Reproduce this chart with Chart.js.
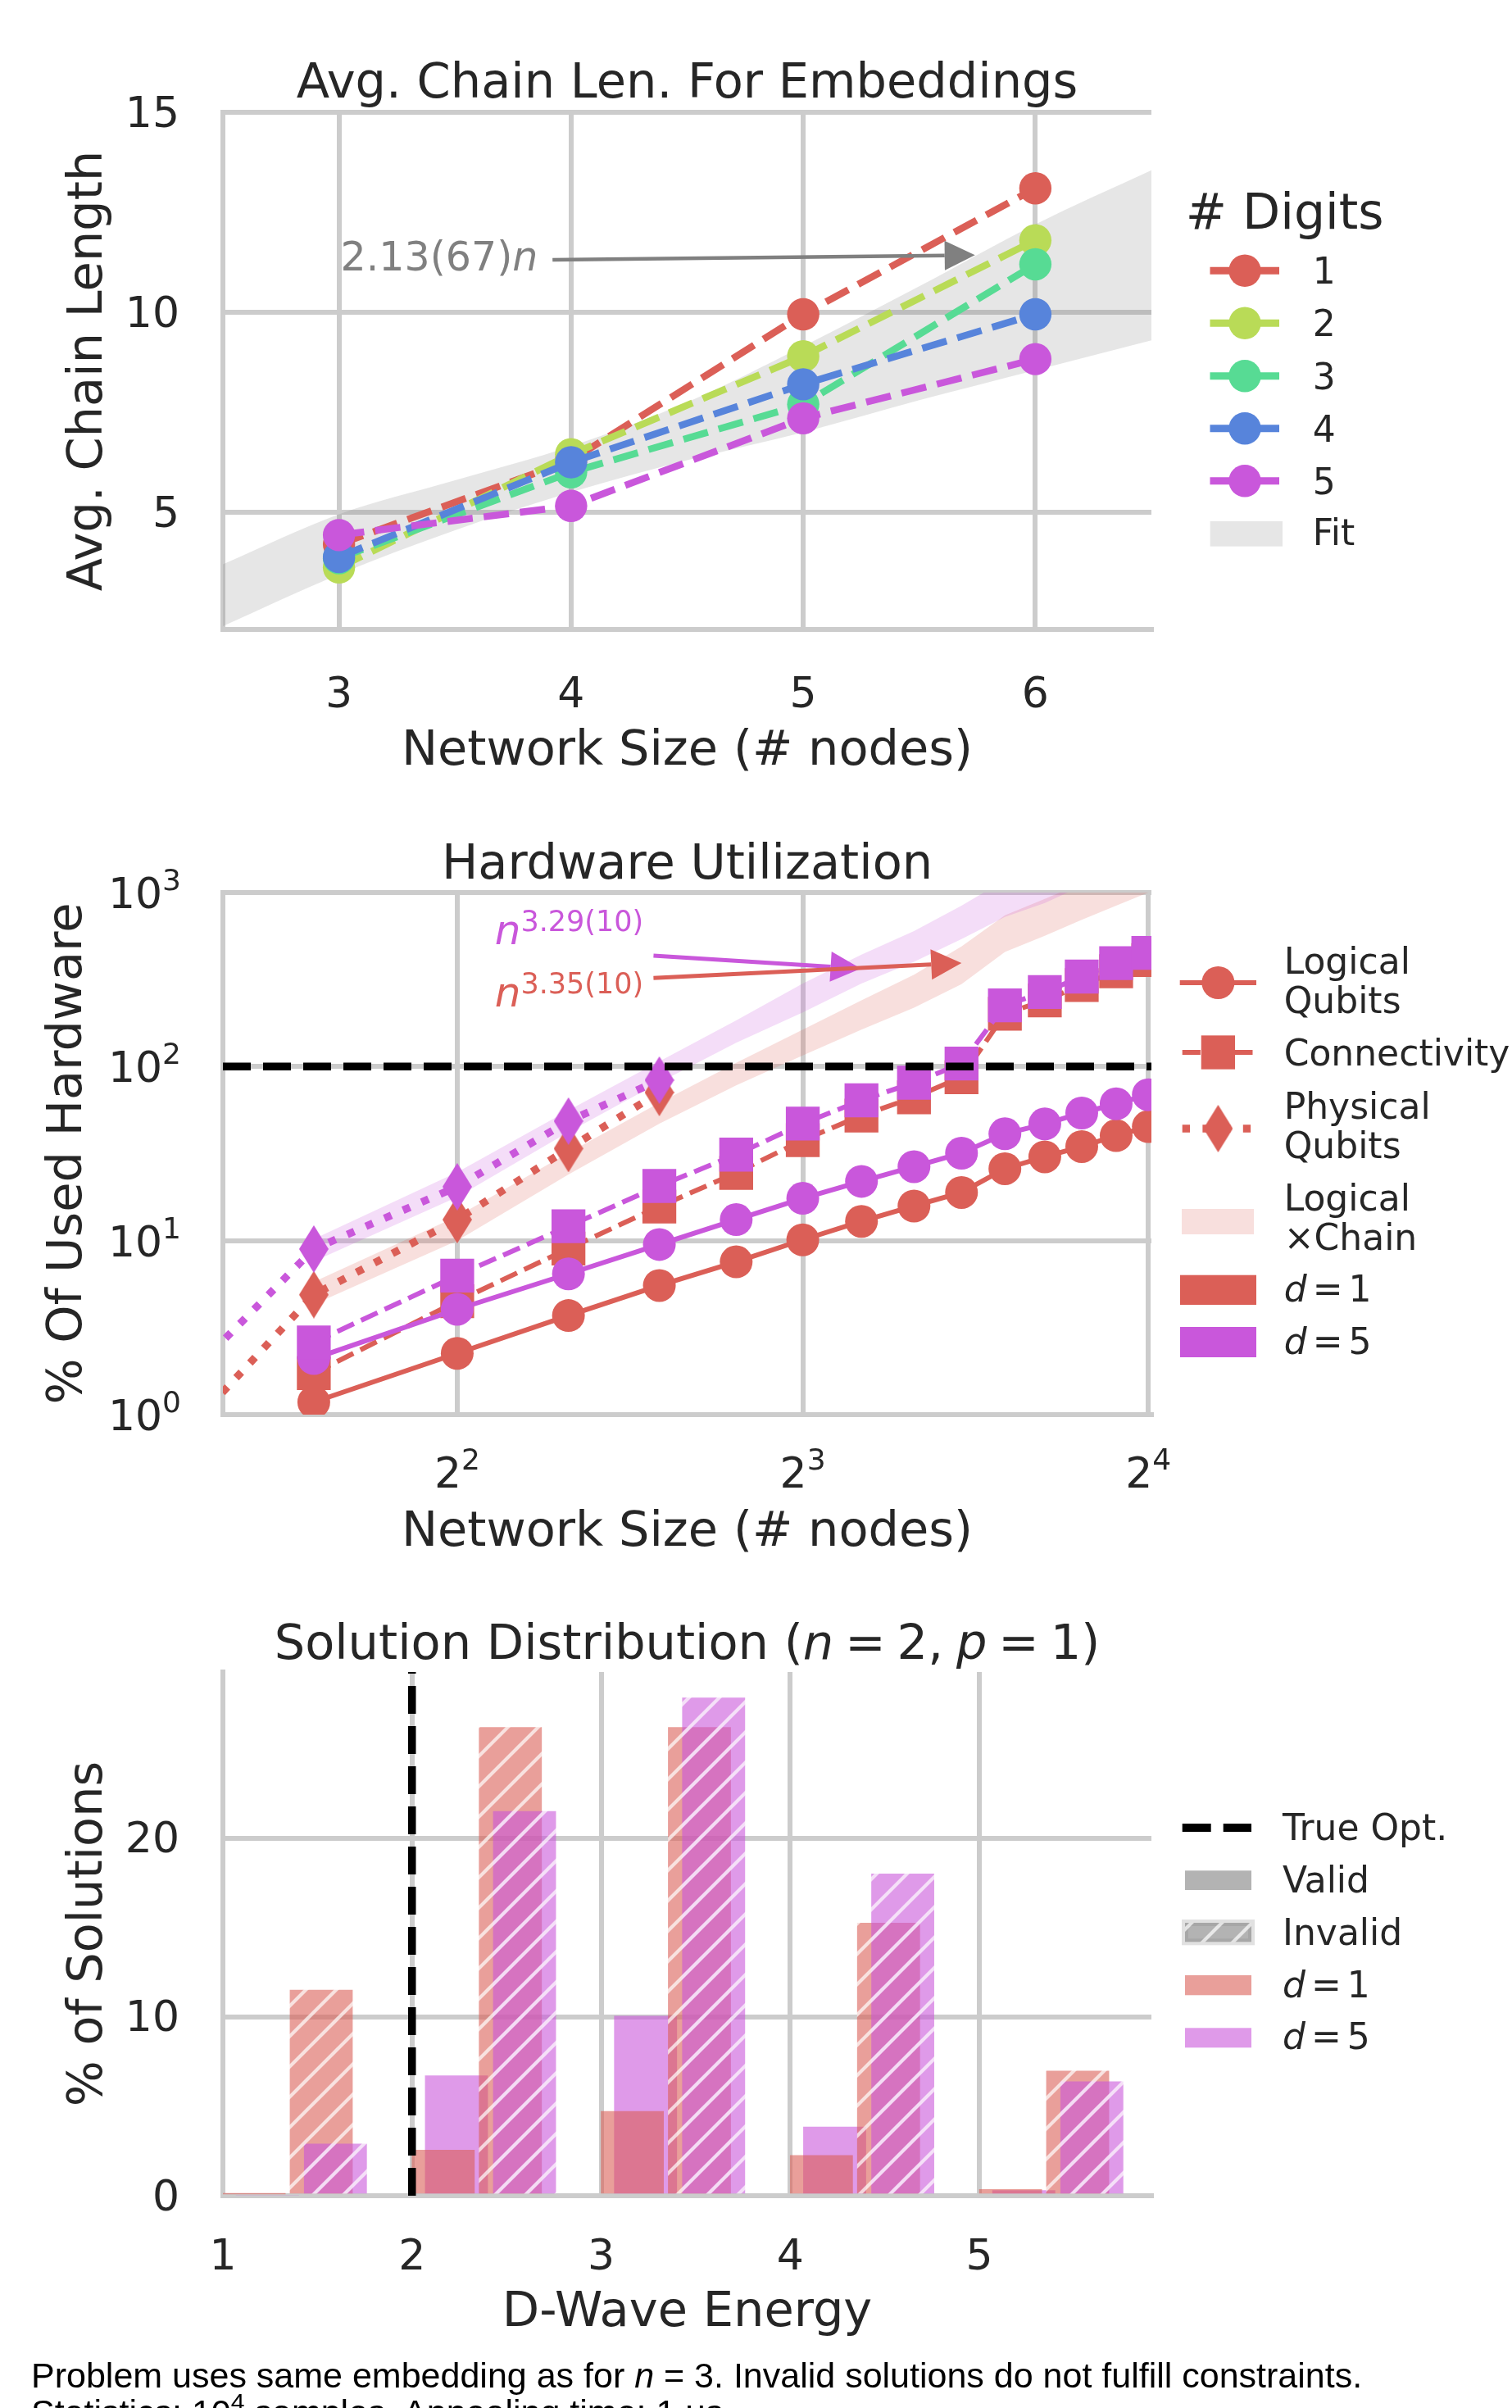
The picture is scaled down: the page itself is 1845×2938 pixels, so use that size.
<!DOCTYPE html>
<html>
<head>
<meta charset="utf-8">
<title>Chain length, hardware utilization and solution distribution</title>
<script src="https://cdn.jsdelivr.net/npm/chart.js@4.4.1/dist/chart.umd.min.js"></script>
<style>
  html, body { margin: 0; padding: 0; background: #fff; }
  body { position: relative; width: 1845px; height: 2938px; overflow: hidden; }
  canvas { position: absolute; left: 0; }
  #foot { position: absolute; left: 38px; top: 2876px; font: 43px/45px "Liberation Sans", sans-serif; color: #000; white-space: nowrap; }
  #foot sup { font-size: 0.7em; line-height: 0; vertical-align: 0.55em; }
</style>
</head>
<body>
<canvas id="chainChart" width="1845" height="1000" style="top:0px"></canvas>
<canvas id="hwChart" width="1845" height="950" style="top:1000px"></canvas>
<canvas id="solChart" width="1845" height="988" style="top:1950px"></canvas>
<div id="foot">Problem uses same embedding as for <i>n</i> = 3. Invalid solutions do not fulfill constraints.<br>Statistics: 10<sup>4</sup> samples. Annealing time: 1 μs.</div>
<script>
// ---------- average chain length ----------
const networkSizes = [3, 4, 5, 6];
const digitNames = ['1', '2', '3', '4', '5'];
const chainLen1 = [4.2, 6.3, 9.95, 13.1];
const chainLen2 = [3.62, 6.45, 8.9, 11.8];
const chainLen3 = [3.85, 6.0, 7.7, 11.2];
const chainLen4 = [3.88, 6.25, 8.2, 9.95];
const chainLen5 = [4.43, 5.16, 7.35, 8.83];
const fitSizes = [2.5, 3, 3.5, 4, 4.5, 5, 5.5, 6, 6.5];
const fitLow = [2.15, 3.45, 4.55, 5.5, 6.3, 7.0, 7.8, 8.55, 9.3];
const fitHigh = [3.7, 4.95, 5.8, 6.65, 7.75, 9.15, 10.65, 12.2, 13.55];
const chainXTicks = [3, 4, 5, 6];
const chainYTicks = [5, 10, 15];

// ---------- hardware utilization (% of used hardware) ----------
const hwSizes = [3, 4, 5, 6, 7, 8, 9, 10, 11, 12, 13, 14, 15, 16];
const logicalD1 = [1.18, 2.25, 3.71, 5.52, 7.55, 10.1, 12.9, 15.8, 18.9, 25.9, 30.3, 34.7, 40.1, 45.2];
const logicalD5 = [2.1, 4.03, 6.44, 9.5, 13.2, 17.5, 21.9, 26.6, 31.8, 41.1, 46.8, 54.1, 61.1, 68.9];
const connD1 = [1.73, 4.48, 9.0, 15.7, 24.5, 37.8, 52.3, 66.6, 86.9, 201, 240, 294, 353, 409];
const connD5 = [2.6, 6.3, 12.1, 20.6, 31.2, 47, 64, 80.8, 104, 225, 268, 329, 393, 450];
const physSizes = [2, 3, 4, 5, 6];
const physD1 = [0.28, 4.89, 13.2, 33.8, 71];
const physD5 = [0.6, 8.95, 20.4, 48.6, 83.6];
const chainBandD1Low = [4.3, 10, 24, 47, 78, 116, 163, 218, 298, 455, 565, 697, 841, 1000];
const chainBandD1High = [5.8, 13.8, 32, 62, 105, 163, 240, 337, 490, 741, 920, 1130, 1370, 1620];
const chainBandD5Low = [7.6, 17.8, 42, 81, 137, 205, 300, 400, 540, 724, 870, 1090, 1280, 1520];
const chainBandD5High = [10.2, 24.7, 56, 107, 184, 300, 440, 600, 840, 1180, 1420, 1760, 2080, 2460];
const hwXTicks = [4, 8, 16];
const hwYTicks = [1, 10, 100, 1000];
const fullHardware = 100;

// ---------- solution distribution ----------
const energyBins = [1, 2, 3, 4, 5];
const validD1 = [0.1, 2.55, 4.72, 2.26, 0.35];
const validD5 = [0, 6.71, 10.05, 3.85, 0.3];
const invalidD1 = [11.5, 26.2, 26.2, 15.25, 6.98];
const invalidD5 = [2.9, 21.5, 27.85, 18.0, 6.38];
const trueOptimum = 2;
const energyTicks = [1, 2, 3, 4, 5];
const solYTicks = [0, 10, 20];

// ---------- style ----------
const INK = '#262626', GRID = '#cccccc';
const RED = '#db5f57', LIME = '#b9db57', GREEN = '#57db94', BLUE = '#5784db', MAGENTA = '#c957db';
const RED_A = 'rgba(219,95,87,0.6)', MAGENTA_A = 'rgba(201,87,219,0.6)';
const PLOT_L = 272, PLOT_R = 1405;

Chart.defaults.font.family = '"DejaVu Sans", sans-serif';
Chart.defaults.color = INK;
Chart.defaults.animation = false;
Chart.defaults.events = [];
Chart.defaults.plugins.legend.display = false;
Chart.defaults.plugins.tooltip.enabled = false;

const pts = (xs, ys) => xs.map((x, i) => ({ x: x, y: ys[i] }));

function fnt(size, italic) { return (italic ? 'italic ' : '') + size + 'px "DejaVu Sans"'; }

// runs: [text, size, italic, raise]; a run with null text is a gap of `size` px
function runAdvance(ctx, r) {
  if (r[0] === null) return r[1];
  ctx.font = fnt(r[1], r[2]);
  return ctx.measureText(r[0]).width;
}

function drawRuns(ctx, runs, x, y, align, color) {
  let w = 0;
  for (const r of runs) w += runAdvance(ctx, r);
  let cx = align === 'center' ? x - w / 2 : align === 'right' ? x - w : x;
  ctx.save();
  ctx.fillStyle = color; ctx.textAlign = 'left'; ctx.textBaseline = 'alphabetic';
  for (const r of runs) {
    const adv = runAdvance(ctx, r);
    if (r[0] !== null) ctx.fillText(r[0], cx, y - (r[3] || 0));
    cx += adv;
  }
  ctx.restore();
}

const mathEq = (name, val, size, gap) => [[name, size, true], [null, gap], ['=', size, false], [null, gap], [val, size, false]];

function line(ctx, x0, y0, x1, y1, color, lw, dash, cap) {
  ctx.save();
  ctx.strokeStyle = color; ctx.lineWidth = lw; ctx.setLineDash(dash || []); ctx.lineCap = cap || 'butt';
  ctx.beginPath(); ctx.moveTo(x0, y0); ctx.lineTo(x1, y1); ctx.stroke();
  ctx.restore();
}

function arrow(ctx, x0, y0, x1, y1, color, lw, hl, hw) {
  const a = Math.atan2(y1 - y0, x1 - x0), c = Math.cos(a), s = Math.sin(a);
  const bx = x1 - hl * c, by = y1 - hl * s;
  line(ctx, x0, y0, bx, by, color, lw);
  ctx.save();
  ctx.fillStyle = color;
  ctx.beginPath();
  ctx.moveTo(x1, y1);
  ctx.lineTo(bx - hw / 2 * s, by + hw / 2 * c);
  ctx.lineTo(bx + hw / 2 * s, by - hw / 2 * c);
  ctx.closePath(); ctx.fill();
  ctx.restore();
}

function circle(ctx, x, y, r, color) {
  ctx.save(); ctx.fillStyle = color; ctx.beginPath(); ctx.arc(x, y, r, 0, Math.PI * 2); ctx.fill(); ctx.restore();
}

function diamondImg(color) {
  const w = 36, h = 58;
  const c = document.createElement('canvas'); c.width = w; c.height = h;
  const g = c.getContext('2d');
  g.fillStyle = color;
  g.beginPath(); g.moveTo(w / 2, 0); g.lineTo(w, h / 2); g.lineTo(w / 2, h); g.lineTo(0, h / 2); g.closePath(); g.fill();
  return c;
}

function hatch(color) {
  const s = 37;
  const c = document.createElement('canvas'); c.width = s; c.height = s;
  const g = c.getContext('2d');
  g.fillStyle = color; g.fillRect(0, 0, s, s);
  g.strokeStyle = 'rgba(255,255,255,0.7)'; g.lineWidth = 4.2;
  g.beginPath();
  g.moveTo(-2, s + 2); g.lineTo(s + 2, -2);
  g.moveTo(-s / 2 - 2, s / 2 + 2); g.lineTo(s / 2 + 2, -s / 2 - 2);
  g.moveTo(s / 2 - 2, s * 1.5 + 2); g.lineTo(s * 1.5 + 2, s / 2 - 2);
  g.stroke();
  return document.createElement('canvas').getContext('2d').createPattern(c, 'repeat');
}

function axis(o) {
  return {
    type: o.type, min: o.min, max: o.max, offset: false,
    afterBuildTicks: s => { s.ticks = o.ticks.map(v => ({ value: v })); },
    afterFit: s => { if (o.width) s.width = o.width; if (o.height) s.height = o.height; },
    grid: { color: GRID, lineWidth: 6, drawTicks: false, offset: false },
    border: { color: GRID, width: 6 },
    ticks: { display: o.showTicks !== false, font: { size: 52 }, color: INK, padding: o.pad || 0, labelOffset: o.labelOffset || 0, maxRotation: 0, autoSkip: false },
    title: { display: true, text: o.title, font: { size: 59 }, color: INK, padding: o.titlePad }
  };
}

function title(chart, runs, baseline) {
  const a = chart.chartArea;
  drawRuns(chart.ctx, runs, (a.left + a.right) / 2, baseline, 'center', INK);
}

// ================= chart 1 =================
const digitSeries = [chainLen1, chainLen2, chainLen3, chainLen4, chainLen5];
const digitColors = [RED, LIME, GREEN, BLUE, MAGENTA];
const fitNote = { x: 3.007, y: 11.05, fromX: 3.92, fromY: 11.31, toX: 5.74, toY: 11.43 };

const chainDeco = {
  id: 'chainDeco',
  afterDatasetsDraw(chart) {
    const { ctx, scales: { x, y } } = chart;
    arrow(ctx, x.getPixelForValue(fitNote.fromX), y.getPixelForValue(fitNote.fromY),
      x.getPixelForValue(fitNote.toX), y.getPixelForValue(fitNote.toY), '#808080', 4.5, 37, 36);
    drawRuns(ctx, [['2.13(67)', 49, false], ['n', 49, true]],
      x.getPixelForValue(fitNote.x), y.getPixelForValue(fitNote.y), 'left', '#808080');
  },
  afterDraw(chart) {
    const ctx = chart.ctx;
    title(chart, [['Avg. Chain Len. For Embeddings', 59, false]], 118.5);
    drawRuns(ctx, [['# Digits', 60, false]], 1446.7, 279, 'left', INK);
    const rows = [330.3, 394.3, 458.7, 522.7, 586.7];
    rows.forEach((ry, i) => {
      line(ctx, 1481, ry, 1556.5, ry, digitColors[i], 9, [], 'square');
      circle(ctx, 1519, ry, 19.7, digitColors[i]);
      drawRuns(ctx, [[digitNames[i], 44, false]], 1601.7, ry + 16, 'left', INK);
    });
    ctx.fillStyle = 'rgba(128,128,128,0.2)';
    ctx.fillRect(1476.7, 636, 88.3, 30.7);
    drawRuns(ctx, [['Fit', 44, false]], 1601.7, 665, 'left', INK);
  }
};

new Chart(document.getElementById('chainChart'), {
  type: 'line',
  data: {
    datasets: [
      { data: pts(fitSizes, fitLow), borderColor: 'rgba(0,0,0,0)', borderWidth: 1, pointRadius: 0, fill: false, cubicInterpolationMode: 'monotone', order: 20 },
      { data: pts(fitSizes, fitHigh), borderColor: 'rgba(0,0,0,0)', borderWidth: 1, pointRadius: 0, fill: '-1', backgroundColor: 'rgba(128,128,128,0.2)', cubicInterpolationMode: 'monotone', order: 19 }
    ].concat(digitSeries.map((s, i) => ({
      label: digitNames[i], data: pts(networkSizes, s),
      borderColor: digitColors[i], backgroundColor: digitColors[i],
      borderWidth: 8.5, borderDash: [31, 13.5], tension: 0, fill: false,
      pointRadius: 19.7, pointHoverRadius: 19.7, pointBackgroundColor: digitColors[i], pointBorderWidth: 0,
      clip: 0, order: 10 - i
    })))
  },
  options: {
    responsive: false, devicePixelRatio: 1,
    layout: { padding: { top: 137, right: 440, bottom: 46, left: 0 } },
    scales: {
      x: axis({ type: 'linear', min: 2.5, max: 6.5, ticks: chainXTicks, height: 186, pad: 49.8, title: 'Network Size (# nodes)', titlePad: { top: 0, bottom: 1 } }),
      y: axis({ type: 'linear', min: 2.07, max: 15, ticks: chainYTicks, width: 272, pad: 53, labelOffset: 4, title: 'Avg. Chain Length', titlePad: { top: 73, bottom: 0 } })
    }
  },
  plugins: [chainDeco]
});

// ================= chart 2 =================
const diamondRed = diamondImg(RED), diamondMagenta = diamondImg(MAGENTA);
const hwNotes = [
  { exp: '3.29(10)', color: MAGENTA, x: 4.313, y: 505, fromX: 5.93, fromY: 434, toX: 8.99, toY: 366 },
  { exp: '3.35(10)', color: RED, x: 4.313, y: 222, fromX: 5.93, fromY: 323, toX: 11.0, toY: 394 }
];

function band(ys, fillColor) {
  return { data: pts(hwSizes, ys), borderColor: 'rgba(0,0,0,0)', borderWidth: 1, pointRadius: 0, tension: 0, fill: fillColor ? '-1' : false, backgroundColor: fillColor || 'rgba(0,0,0,0)' };
}
function series(xs, ys, color, style, radius, dash, lw) {
  return {
    data: pts(xs, ys), borderColor: color, backgroundColor: color, borderWidth: lw, borderDash: dash, tension: 0, fill: false,
    pointStyle: style, pointRadius: radius, pointHoverRadius: radius, pointBackgroundColor: color, pointBorderWidth: 0, clip: 0
  };
}

const hwDatasets = [
  band(chainBandD1Low), band(chainBandD1High, 'rgba(219,95,87,0.2)'),
  band(chainBandD5Low), band(chainBandD5High, 'rgba(201,87,219,0.2)'),
  series(hwSizes, logicalD1, RED, 'circle', 20, [], 6),
  series(hwSizes, connD1, RED, 'rect', 29.2, [22.2, 9.6], 6),
  series(physSizes, physD1, RED, diamondRed, 29, [9.3, 15.4], 9.3),
  series(hwSizes, logicalD5, MAGENTA, 'circle', 20, [], 6),
  series(hwSizes, connD5, MAGENTA, 'rect', 29.2, [22.2, 9.6], 6),
  series(physSizes, physD5, MAGENTA, diamondMagenta, 29, [9.3, 15.4], 9.3)
];
hwDatasets.forEach((d, i) => { d.order = 100 - i; });

function powerLabel(ctx, base, exp, x, y, align) {
  drawRuns(ctx, [[base, 52, false], [exp, 36, false, 22]], x, y, align, INK);
}

const hwDeco = {
  id: 'hwDeco',
  afterDatasetsDraw(chart) {
    const { ctx, chartArea: a, scales: { x, y } } = chart;
    const yy = y.getPixelForValue(fullHardware);
    line(ctx, a.left, yy, a.right, yy, '#000', 9.5, [34, 15]);
    hwNotes.forEach(n => {
      arrow(ctx, x.getPixelForValue(n.fromX), y.getPixelForValue(n.fromY), x.getPixelForValue(n.toX), y.getPixelForValue(n.toY), n.color, 5, 37, 37);
      drawRuns(ctx, [['n', 50, true], [n.exp, 35, false, 16]], x.getPixelForValue(n.x), y.getPixelForValue(n.y), 'left', n.color);
    });
  },
  afterDraw(chart) {
    const { ctx, chartArea: a, scales: { x, y } } = chart;
    title(chart, [['Hardware Utilization', 59, false]], 72.3);
    hwXTicks.forEach(v => powerLabel(ctx, '2', String(Math.round(Math.log2(v))), x.getPixelForValue(v), a.bottom + 89, 'center'));
    hwYTicks.forEach(v => powerLabel(ctx, '10', String(Math.round(Math.log10(v))), a.left - 51, y.getPixelForValue(v) + 19, 'right'));
    // legend
    const lx0 = 1442.7, lx1 = 1530, mx = 1486.4, tx = 1566.7;
    line(ctx, lx0, 199, lx1, 199, RED, 6, [], 'square');
    circle(ctx, mx, 199, 20, RED);
    drawRuns(ctx, [['Logical', 44, false]], tx, 188, 'left', INK);
    drawRuns(ctx, [['Qubits', 44, false]], tx, 236, 'left', INK);
    line(ctx, lx0, 284, lx1, 284, RED, 6, [22.2, 9.6]);
    ctx.fillStyle = RED; ctx.fillRect(mx - 20.65, 284 - 20.65, 41.3, 41.3);
    drawRuns(ctx, [['Connectivity', 44, false]], tx, 300, 'left', INK);
    line(ctx, lx0, 377, lx1, 377, RED, 9.3, [9.3, 15.4]);
    ctx.drawImage(diamondRed, mx - 18, 377 - 29);
    drawRuns(ctx, [['Physical', 44, false]], tx, 364.6, 'left', INK);
    drawRuns(ctx, [['Qubits', 44, false]], tx, 413, 'left', INK);
    ctx.fillStyle = 'rgba(219,95,87,0.2)'; ctx.fillRect(1442, 475, 88, 31);
    drawRuns(ctx, [['Logical', 44, false]], tx, 477, 'left', INK);
    drawRuns(ctx, [['×Chain', 44, false]], tx, 525, 'left', INK);
    ctx.fillStyle = RED; ctx.fillRect(1440, 555.7, 93, 36.3);
    drawRuns(ctx, mathEq('d', '1', 44, 7), tx, 588, 'left', INK);
    ctx.fillStyle = MAGENTA; ctx.fillRect(1440, 619, 93, 37);
    drawRuns(ctx, mathEq('d', '5', 44, 7), tx, 652, 'left', INK);
  }
};

new Chart(document.getElementById('hwChart'), {
  type: 'line',
  data: { datasets: hwDatasets },
  options: {
    responsive: false, devicePixelRatio: 1,
    layout: { padding: { top: 89, right: 440, bottom: 34, left: 0 } },
    scales: {
      x: axis({ type: 'logarithmic', min: 2.5, max: 16.1, ticks: hwXTicks, showTicks: false, height: 190, title: 'Network Size (# nodes)', titlePad: { top: 0, bottom: 9.6 } }),
      y: axis({ type: 'logarithmic', min: 1, max: 1000, ticks: hwYTicks, showTicks: false, width: 272, title: '% Of Used Hardware', titlePad: { top: 48.6, bottom: 0 } })
    }
  },
  plugins: [hwDeco]
});

// ================= chart 3 =================
const solXMin = 1, solXMax = 5.91;
const barWidthUnits = 0.33;
const barOffsets = { validD1: 0, validD5: 0.07, invalidD1: 0.355, invalidD5: 0.43 };
const barPx = barWidthUnits * (PLOT_R - PLOT_L) / (solXMax - solXMin);

function bars(vals, off, fill, order) {
  return {
    type: 'bar', data: energyBins.map((e, i) => ({ x: e + off + barWidthUnits / 2, y: vals[i] })),
    backgroundColor: fill, borderWidth: 0, barThickness: barPx, grouped: false, clip: 0, order: order
  };
}

const solDeco = {
  id: 'solDeco',
  afterDatasetsDraw(chart) {
    const { ctx, chartArea: a, scales: { x } } = chart;
    const xx = x.getPixelForValue(trueOptimum);
    line(ctx, xx, a.bottom, xx, a.top, '#000', 9.5, [34, 15]);
  },
  afterDraw(chart) {
    const ctx = chart.ctx;
    title(chart, [['Solution Distribution (', 59, false]].concat(
      mathEq('n', '2,', 59, 14), [[null, 16]], mathEq('p', '1', 59, 14), [[')', 59, false]]), 73.8);
    const tx = 1565;
    line(ctx, 1442.7, 280, 1527, 280, '#000', 10, [35, 15]);
    drawRuns(ctx, [['True Opt.', 44, false]], tx, 295, 'left', INK);
    ctx.fillStyle = 'rgba(128,128,128,0.6)'; ctx.fillRect(1446, 332.3, 81, 23.7);
    drawRuns(ctx, [['Valid', 44, false]], tx, 359.3, 'left', INK);
    ctx.save();
    ctx.strokeStyle = 'rgba(205,205,205,0.6)'; ctx.lineWidth = 8; ctx.strokeRect(1446, 396, 81, 23.3);
    ctx.fillStyle = hatch('rgba(128,128,128,0.6)'); ctx.fillRect(1446, 396, 81, 23.3);
    ctx.restore();
    drawRuns(ctx, [['Invalid', 44, false]], tx, 422.7, 'left', INK);
    ctx.fillStyle = RED_A; ctx.fillRect(1446, 460, 81, 24.3);
    drawRuns(ctx, mathEq('d', '1', 44, 7), tx, 486.7, 'left', INK);
    ctx.fillStyle = MAGENTA_A; ctx.fillRect(1446, 524.3, 81, 24);
    drawRuns(ctx, mathEq('d', '5', 44, 7), tx, 550, 'left', INK);
  }
};

new Chart(document.getElementById('solChart'), {
  type: 'bar',
  data: {
    datasets: [
      bars(validD5, barOffsets.validD5, MAGENTA_A, 4),
      bars(validD1, barOffsets.validD1, RED_A, 3),
      bars(invalidD1, barOffsets.invalidD1, hatch(RED_A), 2),
      bars(invalidD5, barOffsets.invalidD5, hatch(MAGENTA_A), 1)
    ]
  },
  options: {
    responsive: false, devicePixelRatio: 1,
    layout: { padding: { top: 90, right: 440, bottom: 79, left: 0 } },
    scales: {
      x: axis({ type: 'linear', min: solXMin, max: solXMax, ticks: energyTicks, height: 180, pad: 45, title: 'D-Wave Energy', titlePad: { top: 0, bottom: 0.6 } }),
      y: axis({ type: 'linear', min: 0, max: 29.3, ticks: solYTicks, width: 272, pad: 53, labelOffset: 4, title: '% of Solutions', titlePad: { top: 73.6, bottom: 0 } })
    }
  },
  plugins: [solDeco]
});
</script>
</body>
</html>
